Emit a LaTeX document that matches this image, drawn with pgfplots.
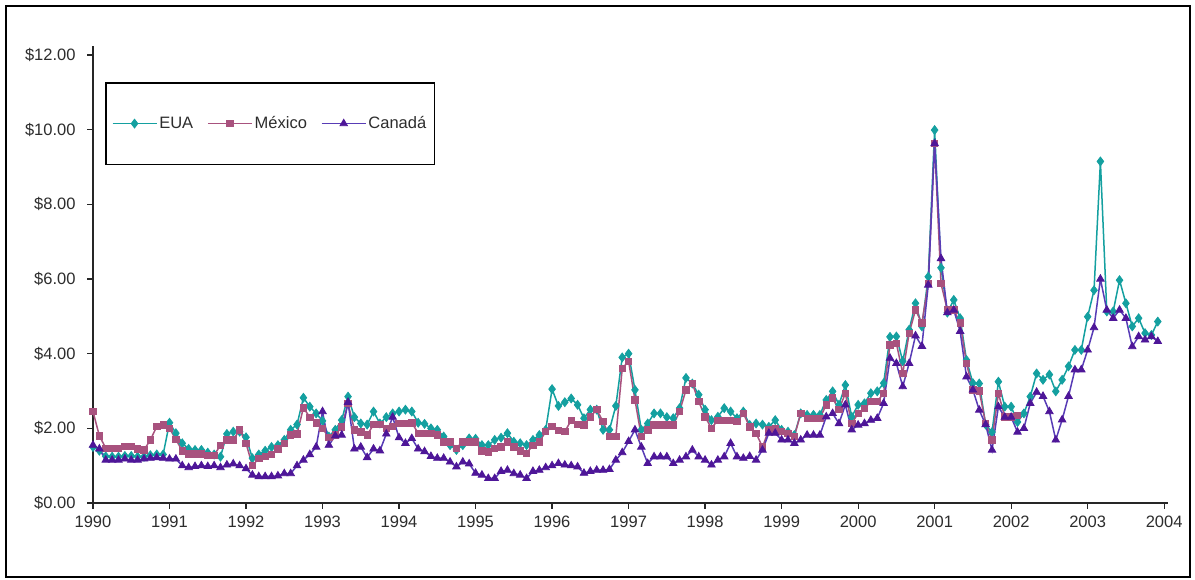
\documentclass[border=0pt]{standalone}
\usepackage{pgfplots}
\usepackage{pgfplotstable}
\usepackage{fontspec}
\setmainfont{Liberation Sans}
\pgfplotsset{compat=1.18}

\definecolor{euac}{RGB}{20,160,160}
\definecolor{mexc}{RGB}{168,82,126}
\definecolor{canl}{RGB}{88,60,182}
\definecolor{canm}{RGB}{78,22,152}
\definecolor{txt}{RGB}{45,45,45}

% Monthly prices, January 1990 onwards (US$)
\pgfplotstableread[row sep=\\]{v\\
1.50\\1.40\\1.25\\1.24\\1.24\\1.26\\1.26\\1.24\\1.24\\1.28\\1.30\\1.30\\
2.15\\1.87\\1.60\\1.45\\1.42\\1.42\\1.35\\1.30\\1.24\\1.85\\1.91\\1.91\\
1.76\\1.20\\1.30\\1.40\\1.50\\1.55\\1.69\\1.96\\2.10\\2.82\\2.58\\2.40\\
2.20\\1.78\\1.96\\2.22\\2.85\\2.30\\2.13\\2.10\\2.45\\2.13\\2.30\\2.40\\
2.45\\2.50\\2.45\\2.15\\2.12\\2.00\\1.96\\1.78\\1.55\\1.42\\1.55\\1.73\\
1.72\\1.55\\1.55\\1.69\\1.75\\1.87\\1.64\\1.60\\1.55\\1.69\\1.82\\1.96\\
3.05\\2.60\\2.70\\2.80\\2.63\\2.27\\2.50\\2.50\\1.96\\1.96\\2.60\\3.90\\
4.00\\3.03\\1.96\\2.13\\2.40\\2.40\\2.30\\2.27\\2.54\\3.35\\3.20\\2.90\\
2.50\\2.22\\2.31\\2.54\\2.45\\2.27\\2.45\\2.09\\2.13\\2.10\\2.04\\2.22\\
1.96\\1.91\\1.82\\2.40\\2.36\\2.36\\2.36\\2.76\\2.99\\2.63\\3.16\\2.31\\
2.63\\2.67\\2.94\\2.99\\3.21\\4.45\\4.46\\3.80\\4.64\\5.35\\4.73\\6.06\\
9.99\\6.30\\5.10\\5.44\\4.95\\3.83\\3.21\\3.20\\2.10\\1.90\\3.25\\2.58\\
2.58\\2.17\\2.40\\2.85\\3.47\\3.30\\3.44\\2.99\\3.30\\3.66\\4.10\\4.10\\
4.99\\5.70\\9.15\\5.13\\5.13\\5.97\\5.35\\4.73\\4.95\\4.55\\4.50\\4.86\\
}\eua

\pgfplotstableread[row sep=\\]{v\\
2.45\\1.80\\1.47\\1.47\\1.47\\1.52\\1.52\\1.45\\1.42\\1.69\\2.05\\2.09\\
2.00\\1.70\\1.40\\1.32\\1.32\\1.32\\1.28\\1.28\\1.55\\1.69\\1.69\\1.96\\
1.60\\1.00\\1.20\\1.25\\1.30\\1.45\\1.60\\1.82\\1.85\\2.55\\2.30\\2.15\\
2.00\\1.75\\1.82\\2.04\\2.67\\1.96\\1.90\\1.82\\2.10\\2.10\\2.00\\2.05\\
2.13\\2.13\\2.15\\1.87\\1.87\\1.87\\1.82\\1.64\\1.64\\1.47\\1.64\\1.64\\
1.64\\1.40\\1.37\\1.47\\1.50\\1.64\\1.50\\1.40\\1.33\\1.55\\1.64\\1.91\\
2.05\\1.95\\1.91\\2.22\\2.10\\2.09\\2.31\\2.50\\2.18\\1.78\\1.78\\3.60\\
3.80\\2.76\\1.78\\1.96\\2.09\\2.09\\2.09\\2.09\\2.45\\3.03\\3.20\\2.72\\
2.31\\2.00\\2.22\\2.22\\2.22\\2.18\\2.40\\2.04\\1.87\\1.50\\1.96\\2.00\\
1.91\\1.87\\1.78\\2.40\\2.27\\2.27\\2.27\\2.63\\2.81\\2.50\\2.94\\2.13\\
2.40\\2.54\\2.72\\2.72\\2.94\\4.23\\4.28\\3.47\\4.55\\5.17\\4.82\\5.88\\
9.63\\5.88\\5.17\\5.17\\4.82\\3.74\\3.03\\3.00\\2.13\\1.69\\2.94\\2.31\\
2.31\\2.35\\
}\mex

\pgfplotstableread[row sep=\\]{v\\
1.55\\1.45\\1.15\\1.15\\1.15\\1.18\\1.15\\1.15\\1.18\\1.20\\1.22\\1.20\\
1.18\\1.18\\1.00\\0.95\\0.98\\1.00\\0.98\\1.00\\0.95\\1.02\\1.05\\1.00\\
0.92\\0.75\\0.71\\0.71\\0.71\\0.73\\0.79\\0.79\\1.00\\1.15\\1.30\\1.50\\
2.45\\1.55\\1.80\\1.82\\2.70\\1.45\\1.50\\1.22\\1.45\\1.40\\1.85\\2.30\\
1.75\\1.60\\1.73\\1.45\\1.38\\1.25\\1.20\\1.20\\1.10\\0.97\\1.10\\1.05\\
0.80\\0.75\\0.66\\0.66\\0.85\\0.88\\0.79\\0.75\\0.66\\0.85\\0.88\\0.95\\
1.00\\1.06\\1.02\\1.00\\0.97\\0.80\\0.85\\0.88\\0.88\\0.90\\1.15\\1.35\\
1.65\\1.96\\1.50\\1.06\\1.24\\1.24\\1.24\\1.06\\1.15\\1.24\\1.42\\1.24\\
1.15\\1.02\\1.15\\1.24\\1.60\\1.24\\1.20\\1.25\\1.15\\1.42\\1.87\\1.87\\
1.69\\1.69\\1.60\\1.69\\1.82\\1.82\\1.82\\2.31\\2.40\\2.13\\2.63\\1.96\\
2.09\\2.13\\2.22\\2.27\\2.67\\3.88\\3.74\\3.12\\3.74\\4.48\\4.20\\5.84\\
9.63\\6.55\\5.10\\5.17\\4.60\\3.38\\3.03\\2.49\\2.10\\1.42\\2.58\\2.30\\
2.30\\1.90\\2.00\\2.67\\2.97\\2.86\\2.45\\1.69\\2.23\\2.86\\3.57\\3.57\\
4.10\\4.70\\6.00\\5.17\\4.95\\5.17\\4.95\\4.19\\4.46\\4.37\\4.46\\4.33\\
}\can

\begin{document}
\begin{tikzpicture}
\useasboundingbox (0pt,0pt) rectangle (1195pt,580pt);
\fill[white] (0pt,0pt) rectangle (1195pt,580pt);
\draw[black, line width=2.2pt] (6pt,3pt) rectangle (1190pt,574pt);
\begin{axis}[
  at={(93pt,77pt)}, anchor=south west,
  scale only axis, width=1075pt, height=457.3pt,
  xmin=1990, xmax=2004.05, ymin=0, ymax=12.25,
  axis x line=bottom, axis y line=left,
  axis line style={-, line width=1.2pt, black!85},
  xtick={1990,1991,...,2004}, ytick={0,2,...,12},
  tick align=outside, major tick length=6pt,
  tick style={line width=1.2pt, black!85},
  /pgf/number format/assume math mode=true,
  xticklabel style={/pgf/number format/1000 sep={}, font=\fontsize{16.5}{18}\selectfont, text=txt, yshift=-3pt},
  yticklabel={\$\pgfmathprintnumber[fixed,fixed zerofill,precision=2]{\tick}},
  yticklabel style={font=\fontsize{16.5}{18}\selectfont, text=txt, xshift=-8pt},
  legend columns=3,
  legend style={at={(0.0112,0.9206)}, anchor=north west, draw=black, line width=1.5pt,
    inner xsep=6pt, inner ysep=32pt, font=\fontsize{16.5}{18}\selectfont, text=txt,
    /tikz/every even column/.append style={column sep=12pt}},
  legend image code/.code={\draw[mark repeat=2,mark phase=2,#1,line width=1.5pt] plot coordinates {(0pt,0pt) (22pt,0pt) (44pt,0pt)};},
]
\addplot[euac, line width=1.5pt, mark=diamond*, mark size=4.4pt, mark options={solid, fill=euac, draw=euac, line width=0.8pt}]
  table[x expr={1990+\coordindex/12}, y=v] {\eua};
\addlegendentry{EUA}
\addplot[mexc, line width=1.5pt, mark=square*, mark size=3.2pt, mark options={solid, fill=mexc, draw=mexc, line width=0.8pt}]
  table[x expr={1990+\coordindex/12}, y=v] {\mex};
\addlegendentry{México}
\addplot[canl, line width=1.5pt, mark=triangle*, mark size=4.3pt, mark options={solid, fill=canm, draw=canm, line width=0.8pt}]
  table[x expr={1990+\coordindex/12}, y=v] {\can};
\addlegendentry{Canadá}
\end{axis}
\end{tikzpicture}
\end{document}
